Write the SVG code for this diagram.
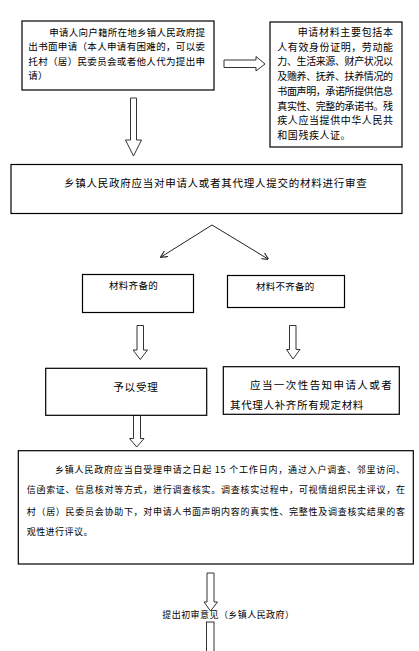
<svg xmlns="http://www.w3.org/2000/svg" width="419" height="651" viewBox="0 0 419 651">
<style>
.box{fill:#fff;stroke:#000;stroke-width:1.2}
.arr{fill:#fff;stroke:#333;stroke-width:1}
.ln{fill:none;stroke:#222;stroke-width:1}
text{font-family:"Noto Sans CJK SC","Noto Sans",sans-serif;fill:#000}
.t95{font-size:9.5px}
.t10{font-size:10px}
.t105{font-size:10.5px}
.t9{font-size:9px}
</style>
<defs>
<marker id="ah" viewBox="0 0 10 10" refX="9" refY="5" markerWidth="7" markerHeight="7" orient="auto" markerUnits="userSpaceOnUse">
<path d="M0,0 L10,5 L0,10" fill="none" stroke="#222" stroke-width="1.5"/>
</marker>
</defs>
<rect width="419" height="651" fill="#fff"/>
<g id="connectors">
<path class="arr" d="M224,60 H256 V56.5 L265,64 L256,71 V67.5 H224 Z"/>
<path class="arr" d="M130.5,98 H136.5 V140 H141.5 L133.5,156 L125.5,140 H130.5 Z"/>
<line class="ln" x1="212" y1="225" x2="161" y2="257" marker-end="url(#ah)"/>
<line class="ln" x1="212" y1="225" x2="268" y2="259" marker-end="url(#ah)"/>
<path class="arr" d="M137,325.5 H143.5 V350 H147.5 L140.3,359.5 L133,350 H137 Z"/>
<path class="arr" d="M289.5,325.5 H296 V349.5 H300 L293,359 L286.5,349.5 H289.5 Z"/>
<path class="arr" d="M133.5,415.5 H140.5 V438.5 H144 L136.8,447 L129.5,438.5 H133.5 Z"/>
<path class="arr" d="M207,573 H214 V602 H217.5 L210.5,611 L204,602 H207 Z"/>
<rect class="arr" x="206.5" y="622" width="7.5" height="40"/>
</g>
<g id="node-apply">
<rect class="box" x="22" y="21" width="192" height="69"/>
<text class="t95" x="49.3" y="36" textLength="155.7" lengthAdjust="spacing">申请人向户籍所在地乡镇人民政府提</text>
<text class="t95" x="28.3" y="50.3" textLength="176.7" lengthAdjust="spacing">出书面申请（本人申请有困难的，可以委</text>
<text class="t95" x="28.3" y="64.6" textLength="176.7" lengthAdjust="spacing">托村（居）民委员会或者他人代为提出申</text>
<text class="t95" x="28.3" y="79.3" letter-spacing="0.3">请）</text>
</g>
<g id="node-materials">
<rect class="box" x="270" y="22" width="132" height="125"/>
<text class="t10" x="297.7" y="36" textLength="95.3" lengthAdjust="spacing">申请材料主要包括本</text>
<text class="t10" x="277.3" y="50.7" textLength="115.7" lengthAdjust="spacing">人有效身份证明，劳动能</text>
<text class="t10" x="277.3" y="65.4" textLength="115.7" lengthAdjust="spacing">力、生活来源、财产状况以</text>
<text class="t10" x="277.3" y="80.1" textLength="115.7" lengthAdjust="spacing">及赡养、抚养、扶养情况的</text>
<text class="t10" x="277.3" y="94.8" textLength="115.7" lengthAdjust="spacing">书面声明，承诺所提供信息</text>
<text class="t10" x="277.3" y="109.5" textLength="115.7" lengthAdjust="spacing">真实性、完整的承诺书。残</text>
<text class="t10" x="277.3" y="124.2" textLength="115.7" lengthAdjust="spacing">疾人应当提供中华人民共</text>
<text class="t10" x="277.3" y="138.9" letter-spacing="0.55">和国残疾人证。</text>
</g>
<g id="node-review">
<rect class="box" x="11" y="164.5" width="391" height="49"/>
<text class="t105" x="64" y="187.3" textLength="302.7" lengthAdjust="spacing">乡镇人民政府应当对申请人或者其代理人提交的材料进行审查</text>
</g>
<g id="node-complete">
<rect class="box" x="82.5" y="274.5" width="111" height="38"/>
<text class="t95" x="109" y="288.6" textLength="48.7" lengthAdjust="spacing">材料齐备的</text>
</g>
<g id="node-incomplete">
<rect class="box" x="227.5" y="275.5" width="117" height="32"/>
<text class="t95" x="256" y="290.3" textLength="58.3" lengthAdjust="spacing">材料不齐备的</text>
</g>
<g id="node-accept">
<rect class="box" x="45.7" y="368.3" width="161" height="47"/>
<text class="t105" x="113.3" y="390.7" textLength="44.4" lengthAdjust="spacing">予以受理</text>
</g>
<g id="node-notify">
<rect class="box" x="223.3" y="366.7" width="176" height="47.6"/>
<text class="t105" x="250" y="389" textLength="141.7" lengthAdjust="spacing">应当一次性告知申请人或者</text>
<text class="t105" x="230" y="409" textLength="133.3" lengthAdjust="spacing">其代理人补齐所有规定材料</text>
</g>
<g id="node-investigate">
<rect class="box" x="18.3" y="450.7" width="395" height="113.3"/>
<text class="t9" x="55" y="472.7" textLength="350" lengthAdjust="spacing">乡镇人民政府应当自受理申请之日起 15 个工作日内，通过入户调查、邻里访问、</text>
<text class="t9" x="26.7" y="493.4" textLength="378.3" lengthAdjust="spacing">信函索证、信息核对等方式，进行调查核实。调查核实过程中，可视情组织民主评议，在</text>
<text class="t9" x="26.7" y="515" textLength="378.3" lengthAdjust="spacing">村（居）民委员会协助下，对申请人书面声明内容的真实性、完整性及调查核实结果的客</text>
<text class="t9" x="26.7" y="535" letter-spacing="0.45">观性进行评议。</text>
</g>
<g id="node-opinion">
<text class="t9" x="162.3" y="618.3" textLength="131.7" lengthAdjust="spacing">提出初审意见（乡镇人民政府）</text>
</g>
</svg>
